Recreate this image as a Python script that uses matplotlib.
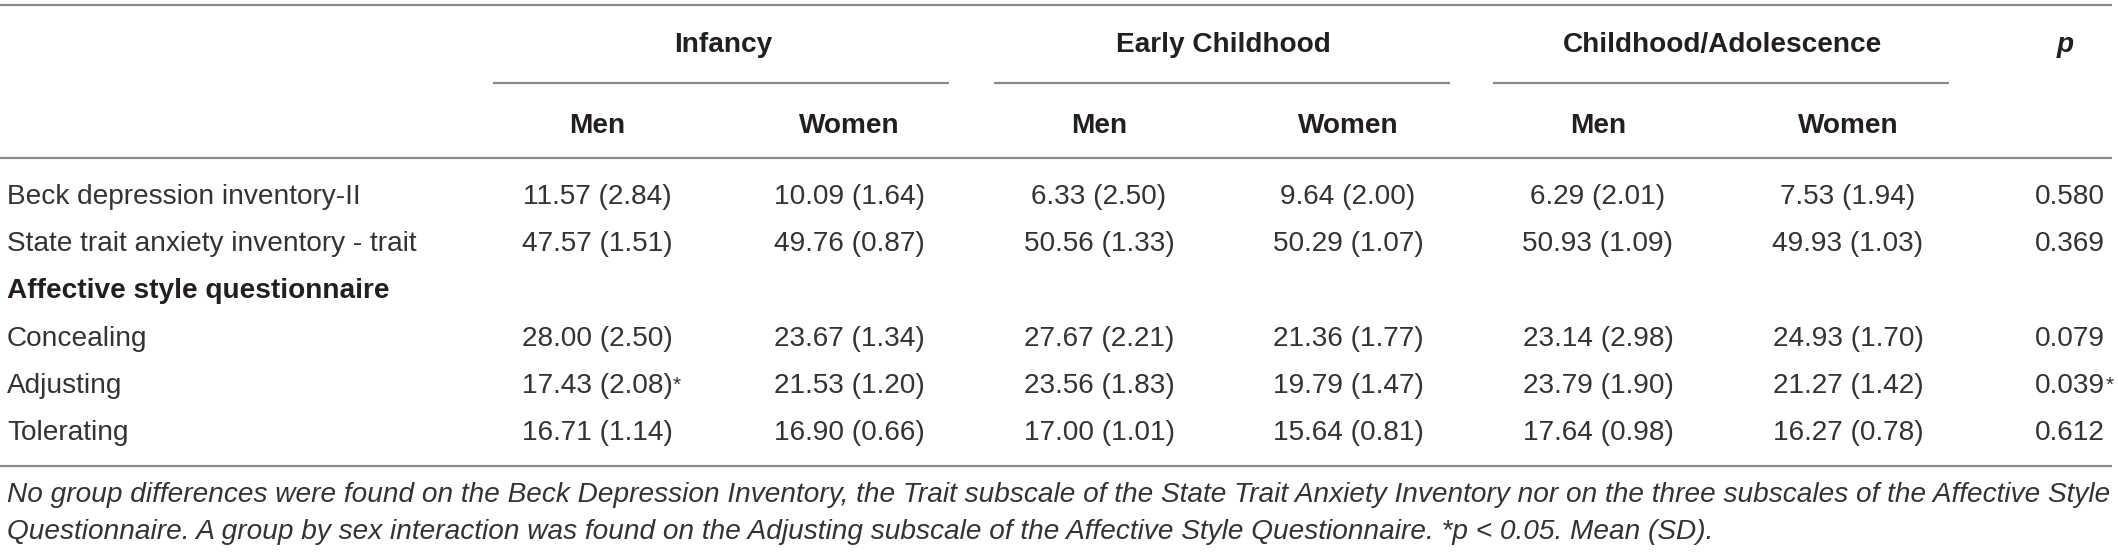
import matplotlib
matplotlib.use("Agg")
import matplotlib.pyplot as plt

# ---- data ----
groups = ["Infancy", "Early Childhood", "Childhood/Adolescence"]
sexes = ["Men", "Women"]
p_header = "p"
row_labels = ["Beck depression inventory-II", "State trait anxiety inventory - trait",
              "Affective style questionnaire", "Concealing", "Adjusting", "Tolerating"]
section_rows = [False, False, True, False, False, False]
means = [
    [11.57, 10.09, 6.33, 9.64, 6.29, 7.53],
    [47.57, 49.76, 50.56, 50.29, 50.93, 49.93],
    None,
    [28.00, 23.67, 27.67, 21.36, 23.14, 24.93],
    [17.43, 21.53, 23.56, 19.79, 23.79, 21.27],
    [16.71, 16.90, 17.00, 15.64, 17.64, 16.27],
]
sds = [
    [2.84, 1.64, 2.50, 2.00, 2.01, 1.94],
    [1.51, 0.87, 1.33, 1.07, 1.09, 1.03],
    None,
    [2.50, 1.34, 2.21, 1.77, 2.98, 1.70],
    [2.08, 1.20, 1.83, 1.47, 1.90, 1.42],
    [1.14, 0.66, 1.01, 0.81, 0.98, 0.78],
]
cell_sig = [
    [False] * 6,
    [False] * 6,
    None,
    [False] * 6,
    [True, False, False, False, False, False],
    [False] * 6,
]
p_values = ["0.580", "0.369", None, "0.079", "0.039", "0.612"]
p_sig = [False, False, None, False, True, False]
caption_lines = [
    "No group differences were found on the Beck Depression Inventory, the Trait subscale of the State Trait Anxiety Inventory nor on the three subscales of the Affective Style",
    "Questionnaire. A group by sex interaction was found on the Adjusting subscale of the Affective Style Questionnaire. *p < 0.05. Mean (SD).",
]

# ---- layout ----
W, H = 2118, 552
FONT = ["Liberation Sans", "DejaVu Sans"]
TXT = "#231f20"
TXT_REG = "#333333"
LINE = "#8a8a8a"
fs = 28 * 72 / 100.0  # 28 px at 100 dpi

fig = plt.figure(figsize=(W / 100, H / 100), dpi=100)
ax = fig.add_axes([0, 0, 1, 1])
ax.set_xlim(0, W)
ax.set_ylim(H, 0)
ax.axis("off")

col_x = [597, 849, 1099, 1348, 1598, 1848]
p_x = 2070
label_x = 7
row_y0, row_dy = 204, 47.2
lw = 1.6

def hline(y, x0, x1):
    ax.plot([x0, x1], [y, y], color=LINE, lw=lw, solid_capstyle="butt")

hline(5, 0, 2112)
hline(158, 0, 2112)
hline(466, 0, 2112)

# group headers + underline
for gi, g in enumerate(groups):
    cx = (col_x[2 * gi] + col_x[2 * gi + 1]) / 2
    ax.text(cx, 52, g, ha="center", va="baseline", fontsize=fs, fontweight="bold",
            family=FONT, color=TXT)
    hline(83, cx - 230, cx + 226)
ax.text(p_x - 5, 52, p_header, ha="center", va="baseline", fontsize=fs, fontweight="bold",
        fontstyle="italic", family=FONT, color=TXT)

for ci, x in enumerate(col_x):
    ax.text(x, 133, sexes[ci % 2], ha="center", va="baseline", fontsize=fs,
            fontweight="bold", family=FONT, color=TXT)

for ri, lab in enumerate(row_labels):
    y = row_y0 + ri * row_dy
    bold = section_rows[ri]
    ax.text(label_x, y, lab, ha="left", va="baseline", fontsize=fs,
            fontweight="bold" if bold else "normal", family=FONT,
            color=TXT if bold else TXT_REG)
    if means[ri] is None:
        continue
    for ci, x in enumerate(col_x):
        t = ax.text(x, y, f"{means[ri][ci]:.2f} ({sds[ri][ci]:.2f})", ha="center",
                    va="baseline", fontsize=fs, family=FONT, color=TXT_REG)
        if cell_sig[ri][ci]:
            ax.annotate("*", xy=(1, 1), xycoords=t, xytext=(0.5, -2), textcoords="offset points",
                        ha="left", va="top", fontsize=fs * 0.75, family=FONT, color=TXT_REG)
    t = ax.text(p_x, y, p_values[ri], ha="center", va="baseline", fontsize=fs,
                family=FONT, color=TXT_REG)
    if p_sig[ri]:
        ax.annotate("*", xy=(1, 1), xycoords=t, xytext=(0.5, -2), textcoords="offset points",
                    ha="left", va="top", fontsize=fs * 0.75, family=FONT, color=TXT_REG)

# caption, fitted to the reference width of line 1
fig.canvas.draw()
r = fig.canvas.get_renderer()
cap_fs = fs
probe = ax.text(label_x, 502, caption_lines[0], ha="left", va="baseline", fontsize=cap_fs,
                fontstyle="italic", family=FONT, color=TXT_REG)
wpx = probe.get_window_extent(r).width
cap_fs = cap_fs * 2100 / wpx
probe.remove()
for li, line in enumerate(caption_lines):
    ax.text(label_x, 502 + li * 37, line, ha="left", va="baseline", fontsize=cap_fs,
            fontstyle="italic", family=FONT, color=TXT_REG)

fig.savefig("out.png", dpi=100, facecolor="white")
